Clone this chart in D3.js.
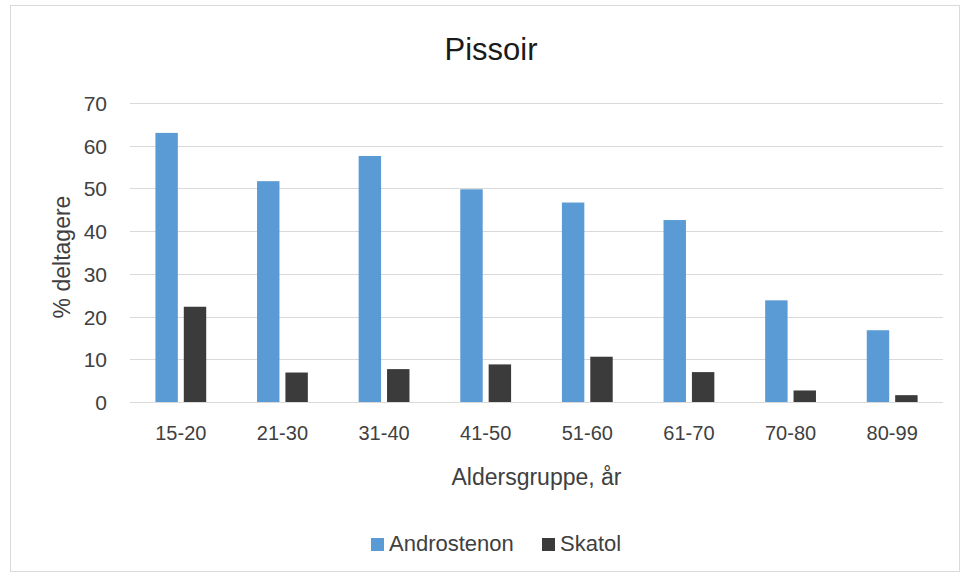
<!DOCTYPE html>
<html>
<head>
<meta charset="utf-8">
<script src="https://cdn.jsdelivr.net/npm/d3@7/dist/d3.min.js"></script>
<style>
  body { margin: 0; background: #fff; }
  text { font-family: "Liberation Sans", Arial, sans-serif; fill: #404040; }
</style>
</head>
<body>
<div id="chart"></div>
<script>
// chart values
const ageGroups = ['15-20', '21-30', '31-40', '41-50', '51-60', '61-70', '70-80', '80-99'];
const seriesNames = ['Androstenon', 'Skatol'];
const androstenon = [63, 51.7, 57.6, 49.8, 46.7, 42.6, 23.8, 16.8];
const skatol = [22.3, 6.9, 7.7, 8.8, 10.6, 7.0, 2.7, 1.6];
const yTicks = [0, 10, 20, 30, 40, 50, 60, 70];

const width = 963, height = 577;
const margin = {top: 103, right: 20, bottom: 175, left: 130};
const plotW = 943 - margin.left;
const plotH = 402 - margin.top;
const colors = ['#5b9bd5', '#3b3b3b'];

const svg = d3.select('#chart')
    .append('svg')
    .attr('width', width)
    .attr('height', height);

// outer frame
svg.append('rect')
    .attr('x', 10.5)
    .attr('y', 5.5)
    .attr('width', 949)
    .attr('height', 566)
    .attr('fill', '#fff')
    .attr('stroke', '#d9d9d9')
    .attr('stroke-width', 1);

const g = svg.append('g')
    .attr('transform', `translate(${margin.left},${margin.top})`);

const x = d3.scaleBand()
    .domain(ageGroups)
    .range([0, plotW])
    .paddingInner(0.5)
    .paddingOuter(0.25);

const xInner = d3.scaleBand()
    .domain(seriesNames)
    .range([0, x.bandwidth()])
    .paddingInner(0.21);

const y = d3.scaleLinear()
    .domain([0, 70])
    .range([plotH, 0]);

// gridlines
g.append('g')
    .selectAll('line')
    .data(yTicks)
    .join('line')
    .attr('x1', 0)
    .attr('x2', plotW)
    .attr('y1', d => Math.round(y(d)) + 0.5)
    .attr('y2', d => Math.round(y(d)) + 0.5)
    .attr('stroke', '#d9d9d9')
    .attr('stroke-width', 1);

// y axis labels
const yAxis = g.append('g')
    .call(d3.axisLeft(y).tickValues(yTicks).tickSize(0).tickPadding(23));
yAxis.select('.domain').remove();
yAxis.selectAll('text')
    .style('font-size', '21px')
    .attr('dy', '0.36em')
    .style('fill', '#404040');

// bars
const rows = ageGroups.map((a, i) => ({group: a, values: [androstenon[i], skatol[i]]}));

g.append('g')
    .selectAll('g')
    .data(rows)
    .join('g')
    .attr('transform', d => `translate(${x(d.group)},0)`)
    .selectAll('rect')
    .data(d => d.values.map((v, j) => ({name: seriesNames[j], value: v, j})))
    .join('rect')
    .attr('x', d => xInner(d.name))
    .attr('y', d => y(d.value))
    .attr('width', xInner.bandwidth())
    .attr('height', d => plotH - y(d.value))
    .attr('fill', d => colors[d.j]);

// x axis labels
const xAxis = g.append('g')
    .attr('transform', `translate(0,${plotH})`)
    .call(d3.axisBottom(x).tickSize(0).tickPadding(24));
xAxis.select('.domain').remove();
xAxis.selectAll('text')
    .style('font-size', '20px')
    .style('fill', '#404040');

// title
svg.append('text')
    .attr('x', 491)
    .attr('y', 60)
    .attr('text-anchor', 'middle')
    .style('font-size', '31px')
    .style('fill', '#1a1a1a')
    .text('Pissoir');

// axis titles
svg.append('text')
    .attr('x', margin.left + plotW / 2)
    .attr('y', 485)
    .attr('text-anchor', 'middle')
    .style('font-size', '23px')
    .text('Aldersgruppe, år');

svg.append('text')
    .attr('transform', 'rotate(-90)')
    .attr('x', -257)
    .attr('y', 70)
    .attr('text-anchor', 'middle')
    .style('font-size', '23px')
    .text('% deltagere');

// legend
const legend = svg.append('g')
    .attr('transform', 'translate(371,538)');

const legendX = [0, 171];
seriesNames.forEach((name, i) => {
    legend.append('rect')
        .attr('x', legendX[i])
        .attr('y', 0)
        .attr('width', 13)
        .attr('height', 13)
        .attr('fill', colors[i]);
    legend.append('text')
        .attr('x', legendX[i] + 18)
        .attr('y', 13)
        .style('font-size', '22px')
        .text(name);
});
</script>
</body>
</html>
